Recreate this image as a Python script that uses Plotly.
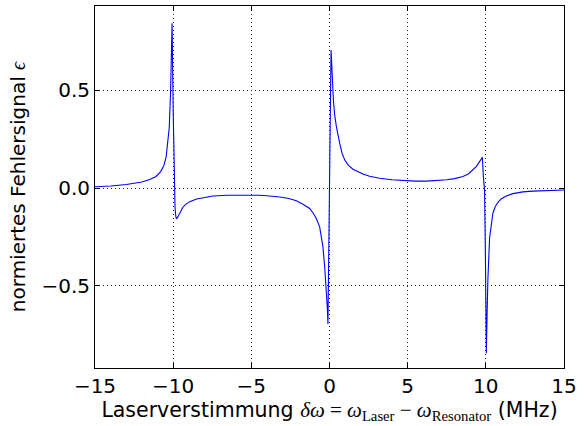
import plotly.graph_objects as go

# Detuning (MHz) and normalized error signal
detuning_mhz = [
    -15.0, -14.0, -13.0, -12.5, -12.0, -11.5, -11.1, -10.8, -10.6, -10.45,
    -10.33, -10.25, -10.17, -10.12, -10.07, -10.00, -9.94, -9.88, -9.83, -9.79,
    -9.70, -9.58, -9.40, -9.20, -8.94, -8.50, -8.00, -7.45, -6.50, -5.50,
    -4.50, -4.00, -3.50, -3.18, -2.60, -2.12, -1.70, -1.27, -1.05, -0.84,
    -0.63, -0.52, -0.42, -0.31, -0.20, -0.14, -0.10, 0.00, 0.10, 0.14,
    0.19, 0.25, 0.33, 0.44, 0.65, 0.80, 0.97, 1.20, 1.50, 2.14, 2.57,
    3.21, 4.00, 4.70, 5.50, 6.20, 6.84, 7.50, 8.00, 8.54, 8.90,
    9.18, 9.40, 9.60, 9.78, 9.84, 9.92, 9.98, 10.03, 10.08, 10.13,
    10.24, 10.35, 10.45, 10.60, 10.77, 11.00, 11.30, 11.73, 12.37, 13.00,
    14.00, 15.00,
]
error_signal = [
    0.007, 0.011, 0.019, 0.025, 0.032, 0.044, 0.060, 0.085, 0.115, 0.160,
    0.235, 0.310, 0.480, 0.620, 0.844, 0.400, 0.000, -0.100, -0.145, -0.157,
    -0.147, -0.128, -0.100, -0.083, -0.069, -0.055, -0.046, -0.040, -0.036, -0.035,
    -0.036, -0.039, -0.042, -0.045, -0.053, -0.064, -0.082, -0.104, -0.127, -0.155,
    -0.198, -0.245, -0.300, -0.400, -0.520, -0.610, -0.695, 0.000, 0.707, 0.640,
    0.540, 0.450, 0.375, 0.315, 0.230, 0.180, 0.145, 0.118, 0.097, 0.072, 0.061,
    0.051, 0.043, 0.039, 0.036, 0.036, 0.038, 0.043, 0.049, 0.060, 0.074,
    0.094, 0.112, 0.136, 0.158, 0.060, -0.010, -0.400, -0.844, -0.650, -0.470,
    -0.255, -0.170, -0.128, -0.095, -0.072, -0.054, -0.040, -0.028, -0.019, -0.015,
    -0.011, -0.009,
]

x_ticks = [-15, -10, -5, 0, 5, 10, 15]
x_ticktext = ["\u221215", "\u221210", "\u22125", "0", "5", "10", "15"]
y_ticks = [-0.5, 0.0, 0.5]
y_ticktext = ["\u22120.5", "0.0", "0.5"]

fig = go.Figure()
fig.add_trace(go.Scatter(
    x=detuning_mhz, y=error_signal, mode="lines",
    line=dict(color="#0000ff", width=1.1), showlegend=False,
))

serif = "font-family:Liberation Serif;font-size:21px"
xtitle = ("Laserverstimmung <span style=\"%s\"><i>\u03b4\u03c9</i> = <i>\u03c9</i><sub>Laser</sub>"
          " \u2212 <i>\u03c9</i><sub>Resonator</sub></span> (MHz)") % serif
ytitle = "normiertes Fehlersignal <span style=\"font-family:Liberation Serif\"><i>\u03f5</i></span>"

axis_common = dict(
    showline=True, linecolor="black", linewidth=1, mirror="ticks",
    ticks="inside", ticklen=5, tickwidth=1, tickcolor="black",
    showgrid=True, gridcolor="#222222", griddash="1px,3px", gridwidth=1,
    zeroline=False, tickfont=dict(size=20, color="black"), automargin=False,
)

fig.update_layout(
    width=586, height=426,
    margin=dict(l=95, r=22, t=6, b=58),
    paper_bgcolor="white", plot_bgcolor="white",
    font=dict(family="DejaVu Sans", color="black", size=20),
    xaxis=dict(range=[-15, 15], tickvals=x_ticks, ticktext=x_ticktext,
               title=dict(text=xtitle, font=dict(size=20.5), standoff=2), **axis_common),
    yaxis=dict(range=[-0.92, 0.932], tickvals=y_ticks, ticktext=y_ticktext,
               title=dict(text=ytitle, font=dict(size=20), standoff=10), **axis_common),
)

fig.write_html("out.html", config={"displayModeBar": False},
               post_script="document.body.style.margin='0';")
